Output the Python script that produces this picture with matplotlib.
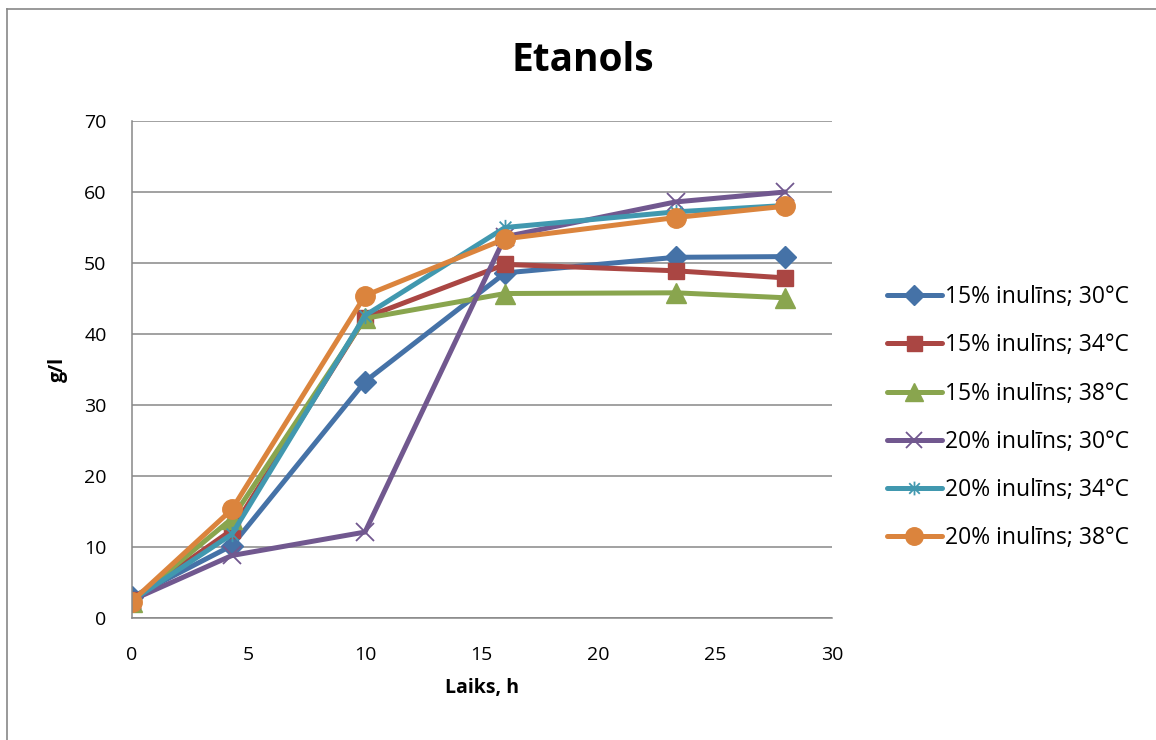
import matplotlib
matplotlib.use("Agg")
import matplotlib.pyplot as plt
from matplotlib.lines import Line2D
from matplotlib.path import Path

plt.rcParams['font.family'] = ['Open Sans', 'DejaVu Sans']

# sampling times, h
laiks = [0, 4.3, 10, 16, 23.3, 28]

# ethanol, g/l
s15_30 = [2.9, 10.2, 33.3, 48.6, 50.8, 50.9]
s15_34 = [2.5, 12.4, 42.3, 49.8, 48.9, 47.9]
s15_38 = [2.3, 14.0, 42.2, 45.7, 45.8, 45.1]
s20_30 = [2.5, 8.8, 12.1, 53.7, 58.6, 60.0]
s20_34 = [2.4, 11.8, 42.6, 55.0, 57.2, 58.1]
s20_38 = [2.3, 15.3, 45.4, 53.4, 56.4, 58.0]

labels = ['15% inulīns; 30°C', '15% inulīns; 34°C', '15% inulīns; 38°C',
          '20% inulīns; 30°C', '20% inulīns; 34°C', '20% inulīns; 38°C']

# excel-like asterisk: x with a vertical bar
star = Path([(-1, -1), (1, 1), (-1, 1), (1, -1), (0, -1.3), (0, 1.3)],
            [Path.MOVETO, Path.LINETO, Path.MOVETO, Path.LINETO, Path.MOVETO, Path.LINETO])

styles = [
    dict(color='#4572A7', marker='D', ms=11),
    dict(color='#AA4643', marker='s', ms=12),
    dict(color='#89A54E', marker='^', ms=14),
    dict(color='#71588F', marker='x', ms=13, mew=1.3),
    dict(color='#4198AF', marker=star, ms=11, mew=1.3),
    dict(color='#DB843D', marker='o', ms=14),
]

fig = plt.figure(figsize=(11.56, 7.4), dpi=100)
ax = fig.add_axes([0.1138, 0.1649, 0.6059, 0.6716])

series = [s15_30, s15_34, s15_38, s20_30, s20_34, s20_38]
for vals, lab, st in zip(series, labels, styles):
    ax.plot(laiks, vals, lw=3.6, label=lab, solid_capstyle='round',
            solid_joinstyle='round', **st)

ax.set_xlim(0, 30)
ax.set_ylim(0, 70)
ax.set_xticks(range(0, 31, 5))
ax.set_yticks(range(0, 71, 10))
ax.grid(axis='y', color='#878787', lw=1.1)
ax.set_axisbelow(True)
for side in ['top', 'right']:
    ax.spines[side].set_visible(False)
for side in ['left', 'bottom']:
    ax.spines[side].set_color('#878787')
    ax.spines[side].set_linewidth(1.1)
ax.tick_params(axis='x', length=0, pad=20, labelsize=14)
ax.tick_params(axis='y', length=0, pad=18, labelsize=14)

ax.set_xlabel('Laiks, h', fontsize=14, fontweight='bold', labelpad=10)
ax.set_ylabel('g/l', fontsize=14, fontweight='bold', labelpad=12)
fig.text(0.5045, 0.918, 'Etanols', fontsize=28, fontweight='bold',
         ha='center', va='center')

ax.legend(loc='center left', bbox_to_anchor=(1.065, 0.403), frameon=False,
          fontsize=16.5, handlelength=2.4, handletextpad=0.15, labelspacing=1.06,
          borderaxespad=0, markerscale=0.9)

# outer chart frame
fig.add_artist(Line2D([6.5 / 1156, 6.5 / 1156], [0, 1 - 8.5 / 740], color='#878787', lw=1.2))
fig.add_artist(Line2D([6.5 / 1156, 1], [1 - 8.5 / 740, 1 - 8.5 / 740], color='#878787', lw=1.2))

fig.savefig('out.png', dpi=100)
